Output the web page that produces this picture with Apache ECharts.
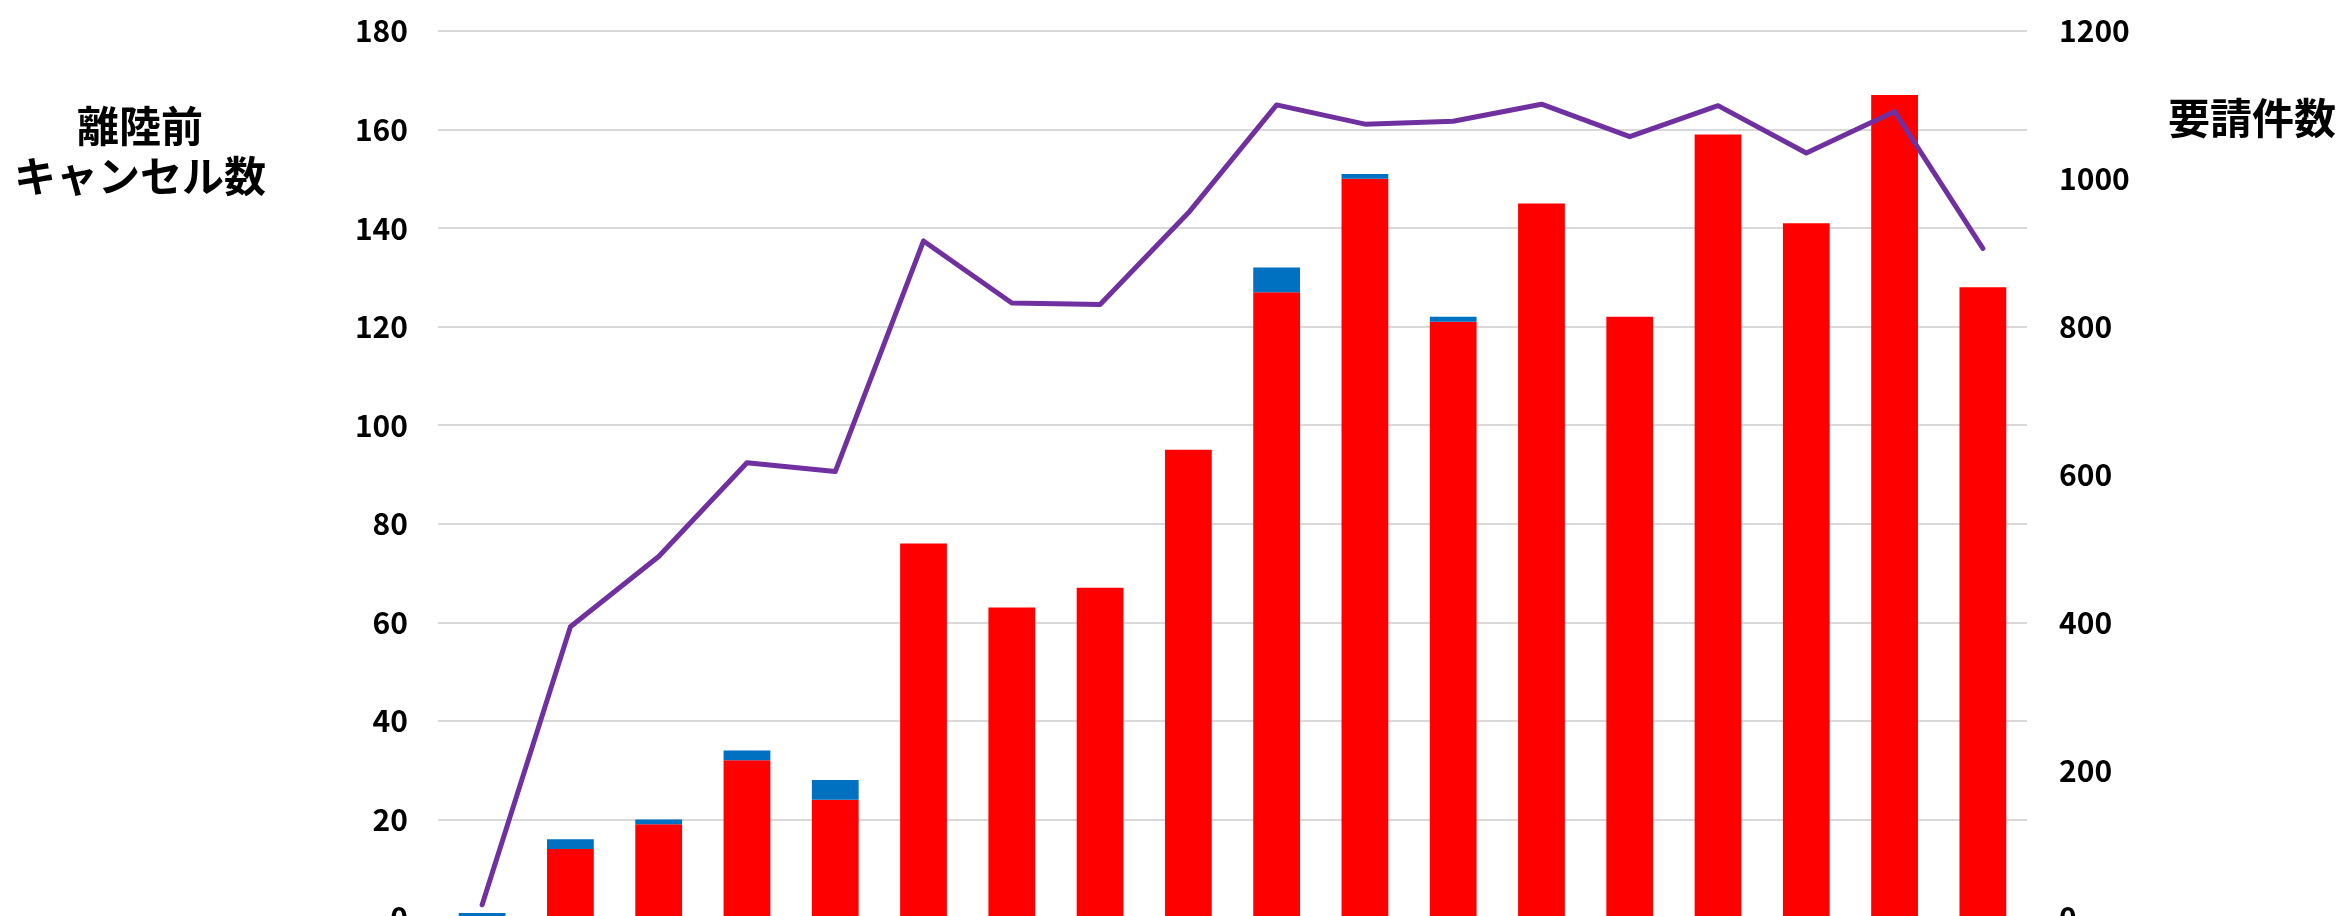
<!DOCTYPE html>
<html>
<head>
<meta charset="utf-8">
<script src="https://cdn.jsdelivr.net/npm/echarts@6/dist/echarts.min.js"></script>
<style>
  html, body { margin: 0; padding: 0; background: #fff; }
  #main { width: 2341px; height: 916px; }
</style>
</head>
<body>
<div id="main"></div>
<script>
// categories (axis labels are cut off in the reference)
const categories = ['1', '2', '3', '4', '5', '6', '7', '8', '9', '10', '11', '12', '13', '14', '15', '16', '17', '18']
// stacked bars (left axis)
const redValues = [0, 14, 19, 32, 24, 76, 63, 67, 95, 127, 150, 121, 145, 122, 159, 141, 167, 128]
const blueValues = [1, 2, 1, 2, 4, 0, 0, 0, 0, 5, 1, 1, 0, 0, 0, 0, 0, 0]
// line (right axis)
const requestValues = [18, 394, 489, 616, 604, 916, 832, 830, 954, 1100, 1074, 1078, 1101, 1057, 1099, 1035, 1091, 906]

const leftTicks = { min: 0, max: 180, interval: 20 }
const rightTicks = { min: 0, max: 1200, interval: 200 }

const font = '"Noto Sans CJK JP", "Noto Sans", sans-serif'

let myChart = echarts.init(document.getElementById('main'))
let option = {
  animation: false,
  textStyle: { fontFamily: font },
  grid: { left: 438, top: 31, width: 1589, height: 887, outerBoundsMode: 'none', containLabel: false },
  graphic: [
    {
      type: 'text',
      x: 140,
      y: 101,
      style: {
        text: '離陸前\nキャンセル数',
        fontSize: 42,
        fontWeight: 'bold',
        fontFamily: font,
        fill: '#000',
        align: 'center',
        verticalAlign: 'top',
        lineHeight: 50
      }
    },
    {
      type: 'text',
      x: 2168,
      y: 118,
      style: {
        text: '要請件数',
        fontSize: 42,
        fontWeight: 'bold',
        fontFamily: font,
        fill: '#000',
        align: 'left',
        verticalAlign: 'middle'
      }
    }
  ],
  xAxis: {
    type: 'category',
    data: categories,
    axisLine: { show: false },
    axisTick: { show: false },
    axisLabel: { show: false }
  },
  yAxis: [
    {
      type: 'value',
      min: leftTicks.min,
      max: leftTicks.max,
      interval: leftTicks.interval,
      axisLine: { show: false },
      axisTick: { show: false },
      axisLabel: { margin: 30, color: '#000', fontSize: 30, fontWeight: 'bold', fontFamily: font },
      splitLine: { lineStyle: { color: '#D9D9D9', width: 2 } }
    },
    {
      type: 'value',
      min: rightTicks.min,
      max: rightTicks.max,
      interval: rightTicks.interval,
      axisLine: { show: false },
      axisTick: { show: false },
      axisLabel: {
        margin: 32, color: '#000', fontSize: 30, fontWeight: 'bold', fontFamily: font,
        formatter: (v) => String(v)
      },
      splitLine: { show: false }
    }
  ],
  series: [
    {
      name: 'red',
      type: 'bar',
      stack: 'cancel',
      barWidth: '53%',
      data: redValues,
      itemStyle: { color: '#FF0000' }
    },
    {
      name: 'blue',
      type: 'bar',
      stack: 'cancel',
      barWidth: '53%',
      data: blueValues,
      itemStyle: { color: '#0070C0' }
    },
    {
      name: '要請件数',
      type: 'line',
      yAxisIndex: 1,
      data: requestValues,
      symbol: 'none',
      z: 5,
      lineStyle: { color: '#7030A0', width: 5, cap: 'round', join: 'round' }
    }
  ]
}
myChart.setOption(option)
</script>
</body>
</html>
